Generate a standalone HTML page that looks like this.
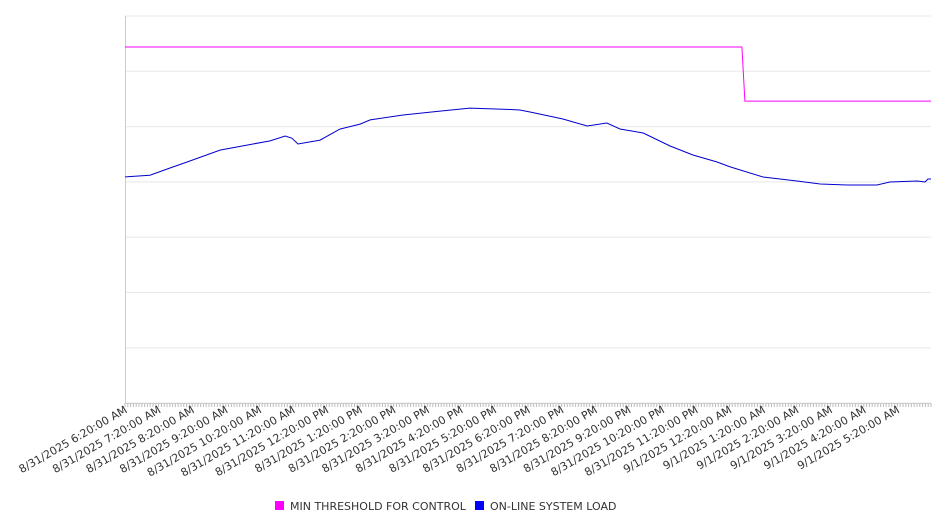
<!DOCTYPE html>
<html><head><meta charset="utf-8"><style>
body{margin:0;background:#fff;}
svg{display:block;font-family:"DejaVu Sans","Liberation Sans",sans-serif;}
</style></head><body>
<svg id="chart" width="946" height="526">
<g id="grid"></g><g id="ticks"></g><g id="labels"></g><g id="series"></g>
<g>
<rect x="275" y="501" width="9" height="9" fill="#ff00ff"/>
<text x="290" y="510" font-size="11" fill="#333">MIN THRESHOLD FOR CONTROL</text>
<rect x="475" y="501" width="9" height="9" fill="#0000ff"/>
<text x="490" y="510" font-size="11" fill="#333">ON-LINE SYSTEM LOAD</text>
</g>
</svg>
<script>
const yTicks=[0,1000,2000,3000,4000,5000,6000,7000];
const hourLabels=["8/31/2025 6:20:00 AM","8/31/2025 7:20:00 AM","8/31/2025 8:20:00 AM","8/31/2025 9:20:00 AM","8/31/2025 10:20:00 AM","8/31/2025 11:20:00 AM","8/31/2025 12:20:00 PM","8/31/2025 1:20:00 PM","8/31/2025 2:20:00 PM","8/31/2025 3:20:00 PM","8/31/2025 4:20:00 PM","8/31/2025 5:20:00 PM","8/31/2025 6:20:00 PM","8/31/2025 7:20:00 PM","8/31/2025 8:20:00 PM","8/31/2025 9:20:00 PM","8/31/2025 10:20:00 PM","8/31/2025 11:20:00 PM","9/1/2025 12:20:00 AM","9/1/2025 1:20:00 AM","9/1/2025 2:20:00 AM","9/1/2025 3:20:00 AM","9/1/2025 4:20:00 AM","9/1/2025 5:20:00 AM"];
const loadHours=[0,0.74,1.34,1.85,2.83,3.81,4.32,4.77,4.97,5.15,5.81,6.40,7.00,7.30,8.28,9.38,10.27,11.26,11.76,12.06,12.36,13.04,13.76,14.35,14.74,15.43,16.23,16.91,17.63,18.02,19.0,20.01,20.70,21.5,22.39,22.78,23.59,23.82,23.91,24];
const loadValues=[4090,4120,4250,4360,4575,4685,4740,4830,4790,4685,4755,4955,5045,5120,5210,5280,5335,5315,5300,5263,5225,5137,5010,5065,4956,4884,4649,4486,4360,4270,4088,4015,3961,3943,3943,3997,4015,3997,4052,4052];
const thrHours=[0,18.37,18.46,24];
const thrValues=[6440,6440,5460,5460];
const X0=125,X1=931,Y0=403,Y1=16,ns="http://www.w3.org/2000/svg";
const x=h=>X0+(X1-X0)*h/24;
const y=v=>Y0-(Y0-Y1)*v/7000;
function mk(t,a,p){const e=document.createElementNS(ns,t);for(const k in a)e.setAttribute(k,a[k]);p.appendChild(e);return e;}
const grid=document.getElementById('grid');
yTicks.forEach(v=>{const l=mk('line',{x1:X0,x2:X1,y1:y(v),y2:y(v),stroke:'#e8e8e8','stroke-width':1},grid);

});
const ax=mk('line',{x1:X0+0.5,x2:X0+0.5,y1:Y1,y2:Y0,stroke:'#ccc'},grid);


const tk=document.getElementById('ticks');
let d='';for(let i=0;i<=288;i++){const xx=(x(i/12)).toFixed(1);d+=`M${xx} ${Y0}V${Y0+4}`;}
const tp=mk('path',{d:d,stroke:'#bbb','stroke-width':1},tk);


const bl=mk('line',{x1:X0,x2:X1,y1:Y0+0.5,y2:Y0+0.5,stroke:'#ccc'},tk);


const lg=document.getElementById('labels');
hourLabels.forEach((s,i)=>{const tx=x(i)+3,ty=412;
const t=mk('text',{x:tx,y:ty,'text-anchor':'end','font-size':11,fill:'#333',transform:`rotate(-30 ${tx} ${ty})`},lg);t.textContent=s;

});
const sg=document.getElementById('series');
const pts=(hs,vs)=>hs.map((h,i)=>x(h).toFixed(1)+','+y(vs[i]).toFixed(1)).join(' ');
const p1=mk('polyline',{points:pts(thrHours,thrValues),fill:'none',stroke:'#ff00ff','stroke-width':1},sg);


const p2=mk('polyline',{points:pts(loadHours,loadValues),fill:'none',stroke:'#0000cc','stroke-width':1},sg);


</script>
</body></html>
